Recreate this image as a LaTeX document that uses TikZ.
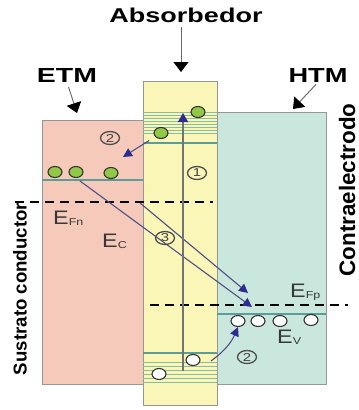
\documentclass[tikz,border=0pt]{standalone}
\usepackage{fontspec}
\setmainfont{Liberation Sans}
\usetikzlibrary{arrows.meta,shapes.geometric}
\definecolor{pinkc}{RGB}{245,202,186}
\definecolor{yellowc}{RGB}{250,246,184}
\definecolor{greenc}{RGB}{202,231,221}
\definecolor{tealc}{RGB}{92,158,150}
\definecolor{thinc}{RGB}{135,188,165}
\definecolor{edgec}{RGB}{150,150,150}
\definecolor{bluec}{RGB}{45,45,145}
\definecolor{lineblue}{RGB}{80,80,135}
\definecolor{ballg}{RGB}{145,200,70}
\definecolor{etext}{RGB}{55,55,55}
\newcommand{\Elab}[1]{\scalebox{1.2}[1]{\fontsize{19.5}{20}\selectfont E}\raisebox{-1.5pt}{\scalebox{1.25}[1]{\fontsize{10}{10}\selectfont #1}}}
\newcommand{\Cnum}[1]{\scalebox{1.3}[1]{#1}}
\begin{document}
\begin{tikzpicture}[x=1pt,y=-1pt,
  box/.style={draw=edgec, line width=0.8pt, inner sep=0pt, anchor=north west},
  band/.style={tealc, line width=2.8pt},
  sublev/.style={thinc, line width=0.6pt},
  fermi/.style={black, line width=1.3pt, dash pattern=on 9pt off 6pt},
  gball/.style={ellipse, draw=black!80, line width=1.1pt, fill=ballg, minimum width=14pt, minimum height=11pt, inner sep=0pt},
  wball/.style={ellipse, draw=black!80, line width=1.1pt, fill=white, minimum width=14pt, minimum height=11pt, inner sep=0pt},
  lab/.style={font=\bfseries, inner sep=0pt, anchor=base},
  elab/.style={text=etext, inner sep=0pt, anchor=base west},
  pointer/.style={draw=black!60, line width=0.9pt, -{Triangle[width=15pt,length=10pt,color=black]}},
  barrow/.style={draw=lineblue, line width=1.1pt, -{Triangle[width=9pt,length=9pt,color=bluec]}},
  num/.style={ellipse, draw=black!70, line width=1.3pt, minimum width=19pt, minimum height=13pt, inner sep=0pt, text=black!75, font=\fontsize{11.5}{11.5}\selectfont}
]
\useasboundingbox (0,0) rectangle (359,410);
\fill[white] (0,0) rectangle (359,410);

% regions
\node[box, fill=pinkc, minimum width=101pt, minimum height=264pt] (etmbox) at (42,120) {};
\node[box, fill=greenc, minimum width=109pt, minimum height=272pt] (htmbox) at (217,112) {};
\node[box, fill=yellowc, minimum width=74pt, minimum height=324pt] (absbox) at (143,81) {};

% energy levels
\draw[band] (42,180) -- (143,180);
\foreach \y in {112,115,118,121,124,127,130,133} \draw[sublev] (143,\y) -- (217,\y);
\draw[band] (143,143) -- (217,143);
\foreach \y in {362,366,370,374,378,382} \draw[sublev] (143,\y) -- (217,\y);
\draw[band] (143,353) -- (217,353);
\draw[band] (217,314) -- (326,314);

% Fermi levels
\coordinate (fnL) at (15,202);
\coordinate (fnR) at (213,202);
\coordinate (fpL) at (150,305);
\coordinate (fpR) at (348,305);
\draw[fermi] (fnL) -- (fnR);
\draw[fermi] (fpL) -- (fpR);

% labels on top
\node[lab] (abslab) at (186,22) {\resizebox{153pt}{14.5pt}{Absorbedor}};
\node[lab] (etmlab) at (67,82) {\resizebox{60pt}{14pt}{ETM}};
\node[lab] (htmlab) at (318,82) {\resizebox{59pt}{14pt}{HTM}};
\coordinate (absst) at (181,27);
\coordinate (abstip) at (181,72);
\coordinate (etmtip) at (77,113);
\coordinate (htmtip) at (293,109);
\draw[pointer] (absst) -- (abstip);
\draw[pointer, shorten <=5pt] (etmlab.south) -- (etmtip);
\draw[pointer, shorten <=3pt] (htmlab.south) -- (htmtip);

% side labels
\node[font=\bfseries, inner sep=0pt, rotate=90] (sust) at (20,289) {\resizebox{172pt}{!}{Sustrato conductor}};
\node[font=\bfseries, inner sep=0pt, rotate=90] (contra) at (347,190) {\resizebox{173pt}{!}{Contraelectrodo}};

% E labels
\node[elab] (efn) at (53,224) {\Elab{Fn}};
\node[elab] (ec) at (102,247) {\Elab{C}};
\node[elab] (efp) at (290,297) {\Elab{Fp}};
\node[elab] (ev) at (277,343) {\Elab{V}};

% diagonal transfers
\coordinate (d1s) at (80,181);
\coordinate (d1e) at (252,307);
\coordinate (d2s) at (140,203);
\coordinate (d2e) at (248,293);
\draw[barrow] (d1s) -- (d1e);
\draw[barrow] (d2s) -- (d2e);

% vertical excitation
\coordinate (vb) at (183,371);
\coordinate (vt) at (183,113);
\draw[draw=black!55, line width=1.4pt, -{Triangle[width=10pt,length=9pt,color=bluec]}] (vb) -- (vt);

% electrons
\node[gball] (g1) at (55,172) {};
\node[gball] (g2) at (76,172) {};
\node[gball] (g3) at (111,173) {};
\node[gball] (g4) at (198,112) {};
\node[gball] (g5) at (161,133) {};

% holes
\node[wball] (w1) at (238,321) {};
\node[wball] (w2) at (258,321) {};
\node[wball] (w3) at (280,321) {};
\node[wball] (w4) at (311,320) {};
\node[wball] (w5) at (193,360) {};
\node[wball] (w6) at (159,374) {};

% injection arrows
\coordinate (inj1) at (123,157);
\draw[barrow, shorten <=7pt] (g5) -- (inj1);
\coordinate (inj2) at (211,361);
\draw[barrow] (inj2) to[bend right=15] (w1.south);

% circled numbers
\node[num] (n1) at (197,173) {\Cnum{1}};
\node[num] (n2a) at (110,138) {\Cnum{2}};
\node[num] (n3) at (165,238) {\Cnum{3}};
\node[num] (n2b) at (247,357) {\Cnum{2}};
\end{tikzpicture}
\end{document}
